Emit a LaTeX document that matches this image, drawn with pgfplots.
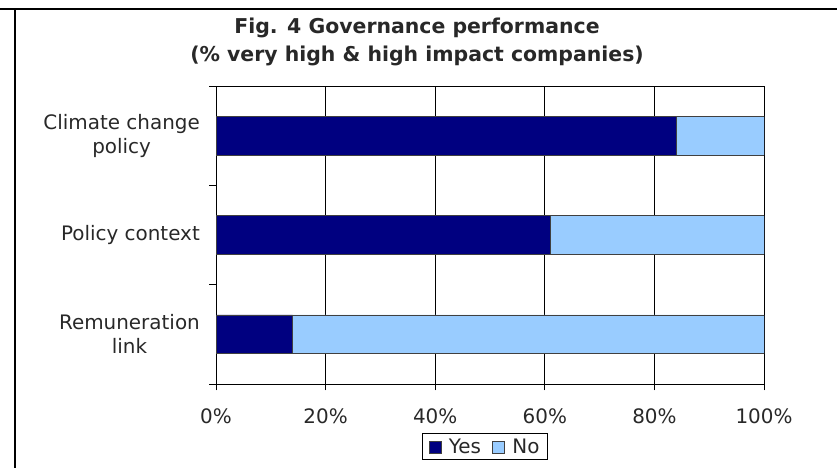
\documentclass[border=0pt]{standalone}
\usepackage{pgfplots}
\pgfplotsset{compat=1.18}
\usepackage{fontspec}
\setmainfont{DejaVu Sans}
\definecolor{yescol}{RGB}{0,0,128}
\definecolor{nocol}{RGB}{153,204,255}
\definecolor{txt}{RGB}{40,40,40}
\begin{document}
\begin{tikzpicture}
\useasboundingbox (0,0) rectangle (837bp,468bp);
\draw[line width=2.5bp] (0,459bp) -- (837bp,459bp);
\draw[line width=2.5bp] (15bp,459bp) -- (15bp,0);
\node[anchor=base, inner sep=0pt, font=\fontsize{20.5}{24}\selectfont\bfseries, text=txt] at (417bp,434bp) {Fig. 4 Governance performance};
\node[anchor=base, inner sep=0pt, font=\fontsize{20.5}{24}\selectfont\bfseries, text=txt] at (417bp,406bp) {(\% very high \& high impact companies)};
\begin{axis}[
  at={(216bp,84bp)}, anchor=south west,
  scale only axis, width=548bp, height=298bp,
  xbar stacked, bar width=0.39,
  xmin=0, xmax=100, ymin=-0.5, ymax=2.5,
  xtick={0,20,40,60,80,100},
  xticklabels={0\%,20\%,40\%,60\%,80\%,100\%},
  ytick={-0.5,0.5,1.5,2.5}, yticklabels={},
  extra y ticks={0,1,2},
  extra y tick labels={{Remuneration\\link},{Policy context},{Climate change\\policy}},
  extra y tick style={major tick length=0pt},
  tick align=outside, major tick length=6.5bp,
  xtick pos=bottom, ytick pos=left,
  xmajorgrids, major grid style={black, line width=0.8bp},
  axis line style={line width=0.8bp},
  every tick/.style={black, line width=0.8bp},
  tick label style={text=txt, font=\fontsize{20}{24}\selectfont},
  yticklabel style={align=center, inner sep=0pt, xshift=-16bp},
  xticklabel style={inner sep=0pt, yshift=-18bp},
  legend style={at={(0.4909,-0.2114)}, anchor=center, draw=black, line width=1bp,
    font=\fontsize{20}{24}\selectfont, text=txt, inner xsep=6bp, inner ysep=3bp,
    /tikz/every even column/.append style={column sep=9bp}},
  legend columns=2,
  legend image code/.code={\draw[#1, line width=0.8bp] (0bp,-6bp) rectangle (12bp,6bp); \path[draw=none, fill=none] (0bp,0bp) -- (18bp,0bp);},
]
\addplot[fill=yescol, draw=black!75, line width=0.8bp] coordinates {(14,0) (61,1) (84,2)};
\addplot[fill=nocol, draw=black!75, line width=0.8bp] coordinates {(86,0) (39,1) (16,2)};
\legend{Yes,No}
\end{axis}
\end{tikzpicture}
\end{document}
